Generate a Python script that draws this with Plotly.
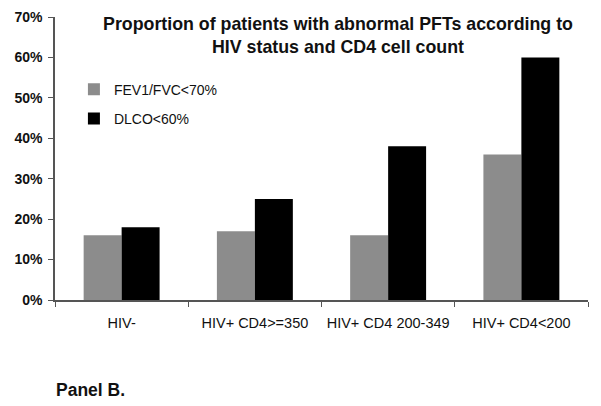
import plotly.graph_objects as go

categories = ["HIV-", "HIV+ CD4>=350", "HIV+ CD4 200-349", "HIV+ CD4<200"]
fev1_fvc = [0.16, 0.17, 0.16, 0.36]
dlco = [0.18, 0.25, 0.38, 0.60]
series_names = ["FEV1/FVC<70%", "DLCO<60%"]
y_ticks = [0, 0.1, 0.2, 0.3, 0.4, 0.5, 0.6, 0.7]

FONT = "Liberation Sans, Arial, sans-serif"

fig = go.Figure()
fig.add_trace(go.Bar(x=categories, y=fev1_fvc, name=series_names[0],
                     marker=dict(color="#8c8c8c", line=dict(width=0)),
                     legendgroup="a"))
fig.add_trace(go.Bar(x=categories, y=dlco, name=series_names[1],
                     marker=dict(color="#000000", line=dict(width=0)),
                     legendgroup="b"))

fig.update_layout(
    width=601, height=406,
    margin=dict(l=55, r=13, t=17, b=106, autoexpand=False),
    paper_bgcolor="white", plot_bgcolor="white",
    barmode="group", bargap=0.43, bargroupgap=0,
    font=dict(family=FONT, color="#111111"),
    title=dict(
        text="Proportion of patients with abnormal PFTs according to<br>HIV status and CD4 cell count",
        font=dict(family=FONT, size=17.8, weight="bold", color="#111111"),
        x=338 / 601, xanchor="center", xref="container",
        y=1 - 30 / 406, yanchor="middle", yref="container",
    ),
    legend=dict(
        x=0.0355, y=0.80, xanchor="left", yanchor="top",
        bgcolor="rgba(0,0,0,0)", font=dict(family=FONT, size=14, color="#111111"),
        tracegroupgap=8, itemwidth=30, traceorder="grouped",
    ),
    showlegend=True,
    xaxis=dict(
        showline=True, linecolor="#555555", linewidth=1.5,
        ticks="outside", tickson="boundaries", ticklen=5, tickcolor="#555555",
        tickfont=dict(family=FONT, size=14.5, color="#111111"),
        ticklabelstandoff=9, showgrid=False, automargin=False,
    ),
    yaxis=dict(
        range=[0, 0.7], tickvals=y_ticks, tickformat=".0%",
        showline=True, linecolor="#555555", linewidth=1.5,
        ticks="outside", ticklen=5, tickcolor="#555555",
        tickfont=dict(family=FONT, size=14, weight="bold", color="#111111"),
        ticklabelstandoff=3, showgrid=False, zeroline=False, automargin=False,
    ),
)

fig.add_annotation(text="Panel B.", xref="paper", yref="paper",
                   x=-0.002, y=(300 - 390) / 283, xanchor="left", yanchor="middle",
                   showarrow=False, font=dict(family=FONT, size=17.5, weight="bold", color="#111111"))

fig.write_html("out.html", config={"displayModeBar": False},
               post_script="document.body.style.margin='0';")
